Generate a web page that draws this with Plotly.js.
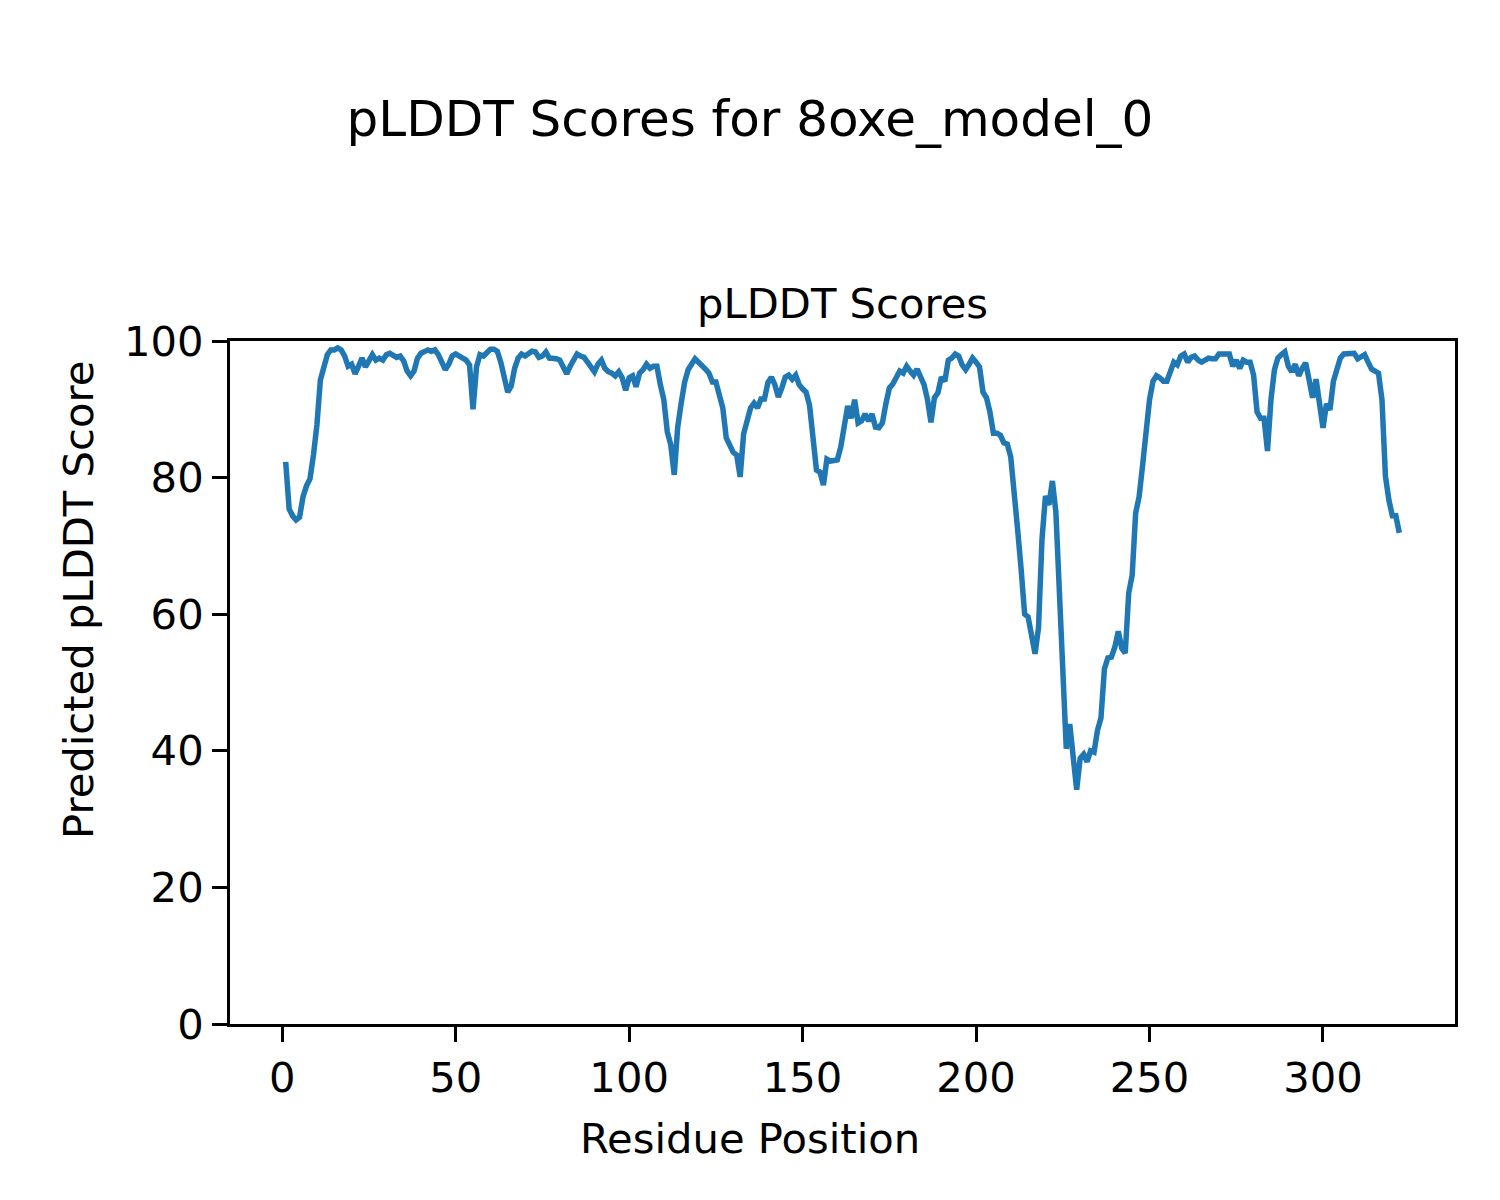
<!DOCTYPE html>
<html>
<head>
<meta charset="utf-8">
<script src="https://cdn.plot.ly/plotly-3.0.1.min.js"></script>
<style>html,body{margin:0;padding:0;background:#fff;}#chart{width:1500px;height:1200px;}</style>
</head>
<body>
<div id="chart"></div>
<script>
// pLDDT score per residue (residues numbered from 1)
const plddtScores = [
  82.3, 75.4, 74.4, 73.8, 74.2, 77.2, 78.8, 79.8, 83.3, 87.7,
  94.3, 96.5, 98.0, 98.7, 98.7, 99.0, 98.7, 97.8, 96.3, 96.6,
  95.2, 96.3, 97.5, 96.2, 97.1, 98.0, 97.2, 97.5, 97.2, 98.0,
  98.2, 98.0, 97.6, 97.8, 97.1, 95.6, 94.9, 95.6, 97.5, 98.2,
  98.5, 98.7, 98.5, 98.7, 98.0, 96.8, 95.8, 96.6, 97.8, 98.1,
  97.8, 97.5, 97.2, 96.5, 90.0, 96.2, 98.0, 97.8, 98.4, 98.8,
  98.8, 98.5, 96.9, 94.9, 92.5, 93.4, 96.0, 97.5, 98.1, 97.8,
  98.1, 98.5, 98.4, 97.6, 97.8, 98.4, 97.5, 97.5, 97.4, 97.2,
  96.3, 95.2, 96.3, 97.4, 98.1, 97.8, 97.6, 96.9, 96.3, 95.5,
  96.6, 97.2, 96.0, 95.5, 95.3, 94.9, 95.5, 94.6, 92.8, 94.6,
  94.9, 93.3, 95.3, 95.8, 96.6, 96.0, 96.3, 96.3, 93.6, 91.4,
  86.7, 84.8, 80.4, 87.4, 90.9, 94.0, 95.8, 96.5, 97.4, 96.9,
  96.5, 95.9, 95.3, 94.0, 94.0, 91.9, 90.2, 85.8, 84.9, 83.7,
  83.3, 80.1, 86.4, 88.4, 90.2, 90.9, 90.2, 91.5, 91.5, 93.9,
  94.7, 93.6, 91.8, 93.1, 94.7, 95.0, 94.4, 95.0, 93.6, 93.0,
  92.5, 90.6, 86.2, 81.1, 80.8, 78.9, 82.7, 82.4, 82.5, 82.6,
  84.5, 87.3, 90.5, 88.7, 91.4, 88.0, 88.3, 89.3, 88.3, 89.3,
  87.4, 87.3, 88.0, 90.8, 93.1, 93.7, 94.9, 95.6, 95.3, 96.3,
  95.6, 95.0, 95.9, 94.6, 93.6, 91.4, 88.1, 91.7, 92.4, 94.7,
  94.1, 97.2, 97.5, 98.1, 97.8, 96.5, 95.8, 96.6, 97.5, 96.9,
  96.2, 92.5, 91.7, 89.6, 86.5, 86.5, 86.2, 85.1, 84.9, 83.0,
  78.2, 72.3, 66.5, 60.0, 59.6, 56.8, 54.2, 58.0, 70.9, 77.3,
  76.0, 79.5, 75.0, 63.5, 51.8, 40.3, 43.9, 39.8, 34.3, 38.9,
  39.5, 38.4, 40.0, 39.8, 43.0, 44.8, 52.0, 53.6, 53.7, 55.2,
  57.5, 55.0, 54.3, 63.1, 65.7, 74.8, 77.2, 81.8, 87.0, 91.4,
  94.1, 94.9, 94.6, 94.1, 94.1, 95.8, 96.9, 96.5, 97.8, 98.1,
  96.9, 97.6, 97.8, 97.2, 96.9, 97.2, 97.5, 97.4, 97.4, 98.1,
  98.1, 98.2, 98.1, 96.3, 97.2, 96.0, 97.2, 96.9, 96.9, 95.0,
  89.6, 88.7, 88.7, 83.9, 91.4, 95.8, 97.5, 98.0, 98.4, 96.3,
  95.5, 96.6, 94.9, 96.0, 96.8, 94.3, 91.7, 94.4, 90.6, 87.3,
  90.8, 89.9, 94.1, 96.2, 97.5, 98.1, 98.1, 98.2, 98.2, 97.4,
  97.8, 98.0, 96.9, 95.9, 95.6, 95.3, 91.4, 80.2, 76.7, 74.4,
  74.4, 71.9
];
const residuePositions = plddtScores.map((_, i) => i + 1);
const xTickValues = [0, 50, 100, 150, 200, 250, 300];
const yTickValues = [0, 20, 40, 60, 80, 100];

const FONT = 'DejaVu Sans, sans-serif';

const trace = {
  x: residuePositions,
  y: plddtScores,
  type: 'scatter',
  mode: 'lines',
  line: {color: '#1f77b4', width: 5.5},
  hoverinfo: 'x+y'
};

const axisCommon = {
  showgrid: false,
  zeroline: false,
  showline: true,
  mirror: true,
  linecolor: '#000',
  linewidth: 3,
  ticks: 'outside',
  ticklen: 15,
  tickwidth: 3,
  tickcolor: '#000',
  tickfont: {family: FONT, size: 41.7, color: '#000'}
};

const layout = {
  width: 1500,
  height: 1200,
  paper_bgcolor: '#fff',
  plot_bgcolor: '#fff',
  showlegend: false,
  margin: {l: 230, r: 45, t: 341, b: 176},
  title: {
    text: 'pLDDT Scores for 8oxe_model_0',
    font: {family: FONT, size: 50, color: '#000'},
    x: 0.5, xref: 'container', xanchor: 'center',
    y: 1 - 118/1200, yref: 'container', yanchor: 'middle'
  },
  xaxis: Object.assign({}, axisCommon, {
    range: [-15.05, 338.05],
    tickmode: 'array',
    tickvals: xTickValues,
    ticktext: xTickValues.map(String),
    ticklabelstandoff: 0
  }),
  yaxis: Object.assign({}, axisCommon, {
    range: [0, 100],
    tickmode: 'array',
    tickvals: yTickValues,
    ticktext: yTickValues.map(String),
    ticklabelstandoff: 0
  }),
  annotations: [
    {
      text: 'pLDDT Scores',
      xref: 'paper', yref: 'paper', x: 0.5, y: 1,
      xanchor: 'center', yanchor: 'bottom', yshift: 11,
      showarrow: false,
      font: {family: FONT, size: 41.7, color: '#000'}
    },
    {
      text: 'Residue Position',
      xref: 'paper', yref: 'paper',
      x: (750 - 230) / 1225, y: -(1138 - 1024) / 683,
      xanchor: 'center', yanchor: 'middle',
      showarrow: false,
      font: {family: FONT, size: 41.7, color: '#000'}
    },
    {
      text: 'Predicted pLDDT Score',
      xref: 'paper', yref: 'paper',
      x: -(230 - 78) / 1225, y: (1024 - 600) / 683,
      xanchor: 'center', yanchor: 'middle',
      textangle: -90,
      showarrow: false,
      font: {family: FONT, size: 41.7, color: '#000'}
    }
  ]
};

Plotly.newPlot('chart', [trace], layout, {displayModeBar: false, staticPlot: true});
</script>
</body>
</html>
